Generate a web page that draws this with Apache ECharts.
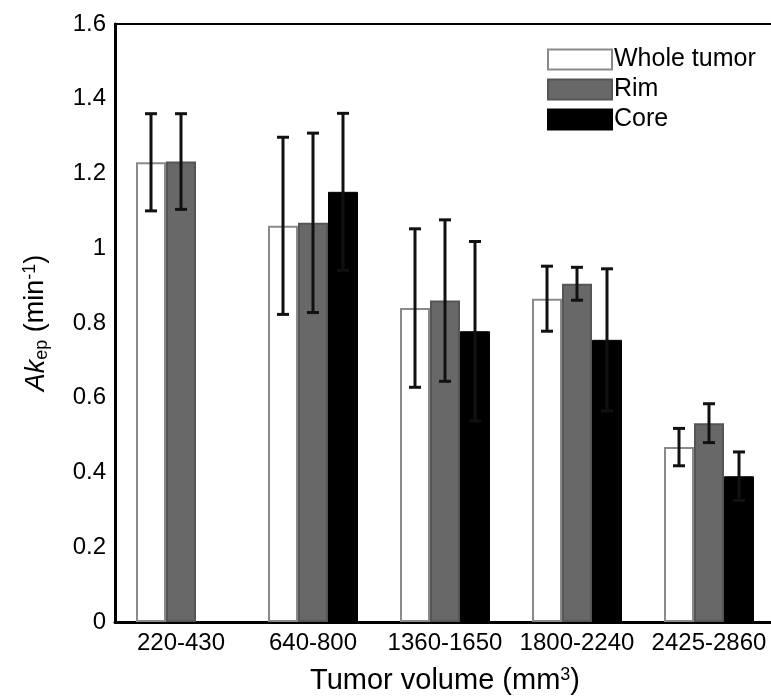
<!DOCTYPE html>
<html>
<head>
<meta charset="utf-8">
<script src="https://cdn.jsdelivr.net/npm/echarts@6/dist/echarts.min.js"></script>
<style>
  html, body { margin: 0; padding: 0; background: #fff; }
  #chart { width: 771px; height: 696px; }
</style>
</head>
<body>
<div id="chart"></div>
<script>
// tumor volume groups (mm^3)
const categories = ['220-430', '640-800', '1360-1650', '1800-2240', '2425-2860'];
// mean Akep values
const wholeTumor = [1.23, 1.06, 0.84, 0.865, 0.468];
const rim = [1.232, 1.068, 0.86, 0.905, 0.532];
const core = [null, 1.151, 0.778, 0.755, 0.39];
// half length of each error bar
const wholeErr = [0.13, 0.237, 0.212, 0.087, 0.05];
const rimErr = [0.128, 0.24, 0.216, 0.044, 0.052];
const coreErr = [null, 0.21, 0.24, 0.19, 0.065];

const FONT = 'Liberation Sans, Arial, Helvetica, sans-serif';
const BAR_W = 30;

// [category index, low, high] for the custom error bar series
function errData(vals, errs) {
  return vals.map((v, i) => v == null ? [i, null, null] : [i, v - errs[i], v + errs[i]]);
}

function errSeries(vals, errs, slot) {
  return {
    type: 'custom',
    z: 10,
    silent: true,
    data: errData(vals, errs),
    renderItem: function (params, api) {
      if (api.value(1) == null || isNaN(api.value(1))) return;
      const lo = api.coord([api.value(0), api.value(1)]);
      const hi = api.coord([api.value(0), api.value(2)]);
      const x = lo[0] + slot * BAR_W;
      const cap = 6;
      const style = { stroke: '#111', lineWidth: 3 };
      return {
        type: 'group',
        children: [
          { type: 'line', shape: { x1: x, y1: hi[1], x2: x, y2: lo[1] }, style: style },
          { type: 'line', shape: { x1: x - cap, y1: hi[1], x2: x + cap, y2: hi[1] }, style: style },
          { type: 'line', shape: { x1: x - cap, y1: lo[1], x2: x + cap, y2: lo[1] }, style: style }
        ]
      };
    }
  };
}

const chart = echarts.init(document.getElementById('chart'));
chart.setOption({
  animation: false,
  backgroundColor: '#fff',
  textStyle: { fontFamily: FONT },
  grid: {
    left: 115, top: 24, bottom: 74, width: 660,
    outerBoundsMode: 'none', containLabel: false,
    show: true, borderColor: '#000', borderWidth: 2
  },
  legend: {
    left: 542, top: 42, orient: 'vertical',
    icon: 'rect',
    itemWidth: 64, itemHeight: 20, itemGap: 5,
    textStyle: { fontSize: 25, color: '#000', fontFamily: FONT, padding: [0, 0, 0, -3] },
    data: ['Whole tumor', 'Rim', 'Core']
  },
  xAxis: {
    type: 'category',
    data: categories,
    axisLine: { lineStyle: { color: '#000', width: 3 } },
    axisTick: { show: false },
    axisLabel: { color: '#000', fontSize: 24, margin: 9, interval: 0, fontFamily: FONT },
    name: 'Tumor volume (mm{sup|3})',
    nameLocation: 'middle',
    nameGap: 44,
    nameTextStyle: {
      color: '#000', fontSize: 29, fontFamily: FONT,
      rich: { sup: { fontSize: 18, verticalAlign: 'top', lineHeight: 18, padding: [0, 0, 12, 0] } }
    }
  },
  yAxis: {
    type: 'value',
    min: 0, max: 1.6, interval: 0.2,
    splitLine: { show: false },
    axisLine: { show: true, lineStyle: { color: '#000', width: 3 } },
    axisTick: { show: false },
    axisLabel: { color: '#000', fontSize: 24, margin: 9, fontFamily: FONT },
    name: '{it|Ak}{sub|ep} (min{sup|-1})',
    nameLocation: 'middle',
    nameRotate: 90,
    nameGap: 64,
    nameTextStyle: {
      color: '#000', fontSize: 27, fontFamily: FONT,
      rich: {
        it: { fontStyle: 'italic', fontSize: 27 },
        sub: { fontSize: 18, padding: [12, 0, 0, 0] },
        sup: { fontSize: 18, padding: [0, 0, 12, 0] }
      }
    }
  },
  series: [
    {
      name: 'Whole tumor', type: 'bar', data: wholeTumor,
      barWidth: BAR_W, barGap: '0%',
      itemStyle: { color: '#fff', borderColor: '#8a8a8a', borderWidth: 2 }
    },
    {
      name: 'Rim', type: 'bar', data: rim,
      barWidth: BAR_W, barGap: '0%',
      itemStyle: { color: '#686868', borderColor: '#555', borderWidth: 2 }
    },
    {
      name: 'Core', type: 'bar', data: core,
      barWidth: BAR_W, barGap: '0%',
      itemStyle: { color: '#000', borderColor: '#000', borderWidth: 1 }
    },
    errSeries(wholeTumor, wholeErr, -1),
    errSeries(rim, rimErr, 0),
    errSeries(core, coreErr, 1)
  ]
});
</script>
</body>
</html>
